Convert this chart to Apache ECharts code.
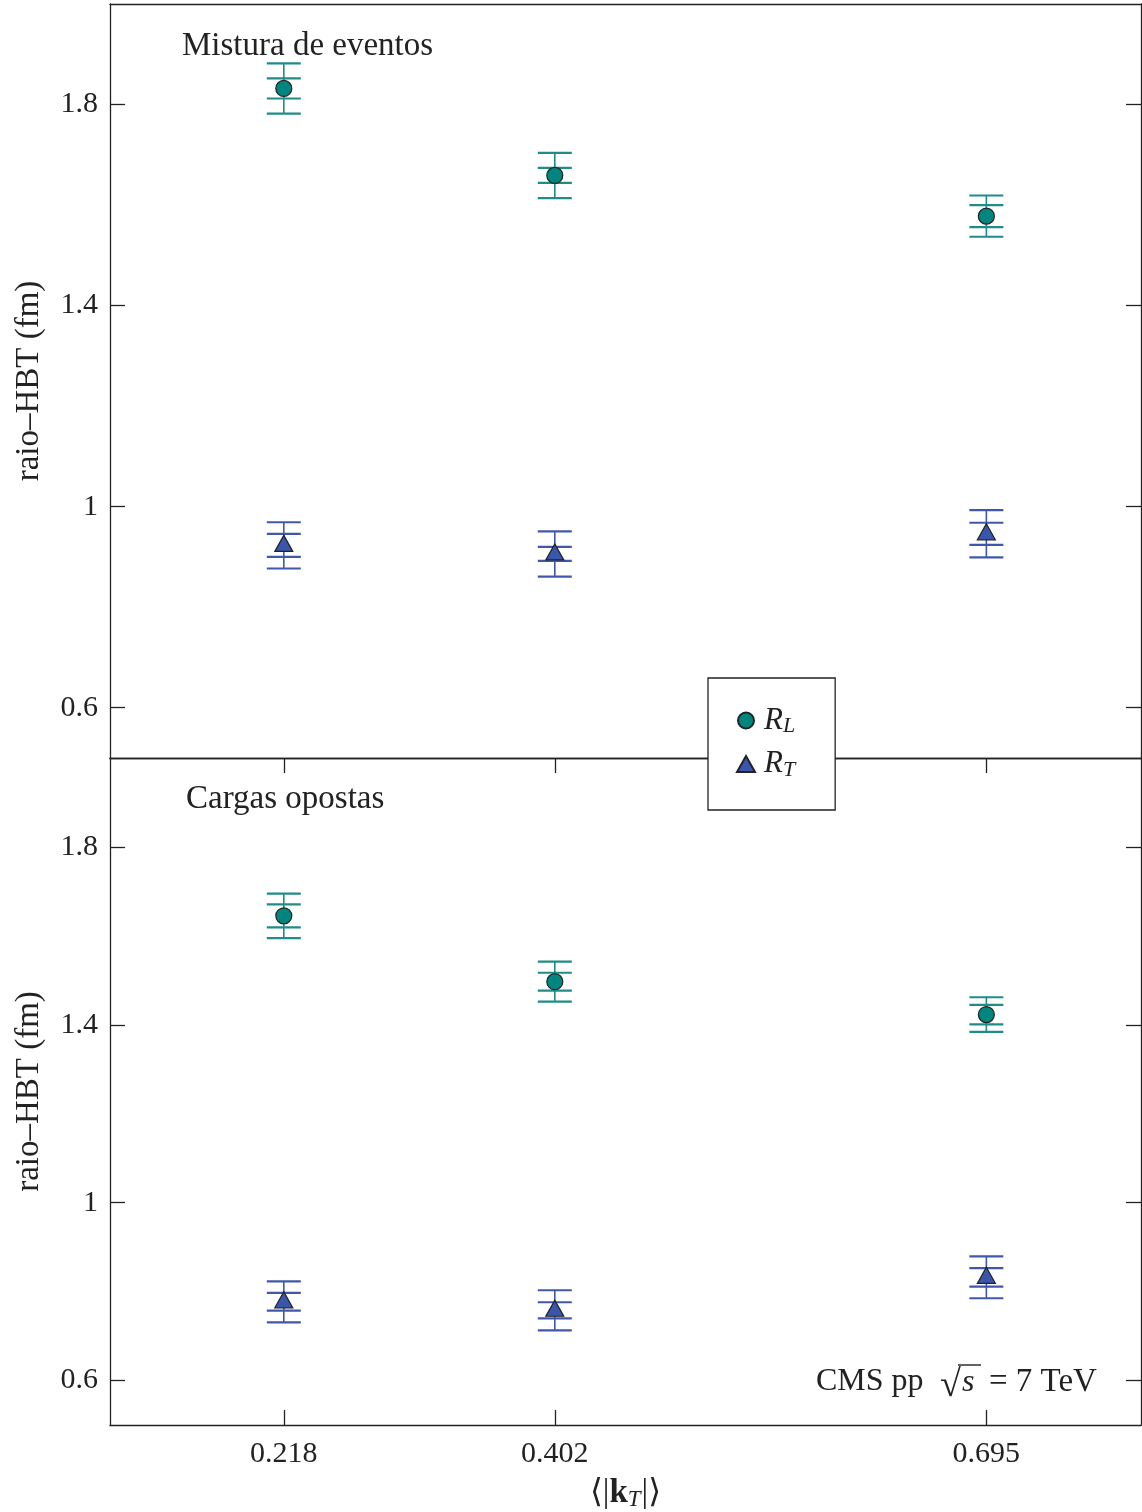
<!DOCTYPE html>
<html>
<head>
<meta charset="utf-8">
<script src="https://cdn.jsdelivr.net/npm/echarts@6/dist/echarts.min.js"></script>
<style>
  html, body { margin: 0; padding: 0; background: #fff; }
  #chart { width: 1142px; height: 1512px; }
</style>
</head>
<body>
<div id="chart"></div>
<script>
// Mean pair transverse momentum bins <|kT|>
const kT = [0.218, 0.402, 0.695];
const kTTicks = [0.218, 0.402, 0.695];
const radiusTicks = [0.6, 1.0, 1.4, 1.8];

// Event mixing reference sample
const mixRL = [1.832, 1.659, 1.578];
const mixRLStat = [0.020, 0.015, 0.022];
const mixRLTot = [0.050, 0.045, 0.041];
const mixRT = [0.923, 0.906, 0.946];
const mixRTStat = [0.023, 0.014, 0.022];
const mixRTTot = [0.046, 0.045, 0.047];

// Opposite charge reference sample
const oppRL = [1.645, 1.497, 1.423];
const oppRLStat = [0.026, 0.020, 0.022];
const oppRLTot = [0.050, 0.045, 0.039];
const oppRT = [0.777, 0.758, 0.832];
const oppRTStat = [0.020, 0.018, 0.021];
const oppRTTot = [0.046, 0.045, 0.047];

const tealMark = '#00857F';
const tealBar = '#1F8C87';
const blueMark = '#3A55AC';
const blueBar = '#3F58AE';
const ink = '#222';
const serif = '"Liberation Serif", "DejaVu Serif", serif';

function points(vals) { return kT.map((x, i) => [x, vals[i]]); }
function errRows(vals, stat, tot) {
  return kT.map((x, i) => [x, vals[i], vals[i] - stat[i], vals[i] + stat[i], vals[i] - tot[i], vals[i] + tot[i]]);
}

// Double-capped error bars: inner caps = statistical, outer caps = total
function errorBarSeries(rows, color, gridIdx) {
  return {
    type: 'custom',
    xAxisIndex: gridIdx * 2,
    yAxisIndex: gridIdx * 2,
    silent: true,
    z: 2,
    data: rows,
    renderItem: function (params, api) {
      const x = api.value(0);
      const hw = 17;
      const pLo = api.coord([x, api.value(4)]);
      const pHi = api.coord([x, api.value(5)]);
      const sLo = api.coord([x, api.value(2)]);
      const sHi = api.coord([x, api.value(3)]);
      const cx = pLo[0];
      const cap = (y) => ({ type: 'line', shape: { x1: cx - hw, y1: y, x2: cx + hw, y2: y }, style: { stroke: color, lineWidth: 2.2 } });
      return {
        type: 'group',
        children: [
          { type: 'line', shape: { x1: cx, y1: pLo[1], x2: cx, y2: pHi[1] }, style: { stroke: color, lineWidth: 1.6 } },
          cap(pLo[1]), cap(pHi[1]), cap(sLo[1]), cap(sHi[1])
        ]
      };
    }
  };
}

function scatter(name, vals, symbol, size, color, gridIdx, offset) {
  return {
    name: name,
    type: 'scatter',
    xAxisIndex: gridIdx * 2,
    yAxisIndex: gridIdx * 2,
    symbol: symbol,
    symbolSize: size,
    symbolOffset: offset || [0, 0],
    z: 5,
    itemStyle: { color: color, borderColor: ink, borderWidth: 1.2, opacity: 1 },
    data: points(vals)
  };
}

const grids = [
  { left: 110, top: 4, width: 1031, height: 754 },
  { left: 110, top: 758, width: 1031, height: 668 }
];

const axisLine = { show: true, onZero: false, lineStyle: { color: ink, width: 1.3 } };
const tickStyle = { color: ink, width: 1.3 };

const xAxes = [];
const yAxes = [];
grids.forEach((g, gi) => {
  const isBottom = gi === 1;
  // lower edge of each panel
  xAxes.push({
    gridIndex: gi, type: 'value', position: 'bottom', min: 0.1, max: 0.8,
    axisLine: axisLine,
    axisTick: { show: isBottom, inside: true, length: 15, lineStyle: tickStyle, customValues: kTTicks },
    axisLabel: { show: isBottom, customValues: kTTicks, margin: 14, fontFamily: serif, fontSize: 30, color: ink },
    splitLine: { show: false },
    name: isBottom ? '{a|⟨|}{b|k}{c|T}{a||⟩}' : '',
    nameLocation: 'middle', nameGap: 50,
    nameTextStyle: {
      rich: {
        a: { fontFamily: serif, fontSize: 33, color: ink },
        b: { fontFamily: serif, fontSize: 33, fontWeight: 'bold', color: ink },
        c: { fontFamily: serif, fontSize: 23, fontStyle: 'italic', color: ink, padding: [13, 1, 0, 0] }
      }
    }
  });
  // upper edge of each panel
  xAxes.push({
    gridIndex: gi, type: 'value', position: 'top', min: 0.1, max: 0.8,
    axisLine: axisLine,
    axisTick: { show: isBottom, inside: true, length: 15, lineStyle: tickStyle, customValues: kTTicks },
    axisLabel: { show: false },
    splitLine: { show: false }
  });
  yAxes.push({
    gridIndex: gi, type: 'value', position: 'left', min: 0.5, max: 2.0,
    axisLine: axisLine,
    axisTick: { show: true, inside: true, length: 15, lineStyle: tickStyle, customValues: radiusTicks },
    axisLabel: { customValues: radiusTicks, margin: 12, fontFamily: serif, fontSize: 30, color: ink },
    splitLine: { show: false },
    name: 'raio–HBT (fm)', nameLocation: 'middle', nameGap: 64, nameRotate: 90,
    nameTextStyle: { fontFamily: serif, fontSize: 33, color: ink }
  });
  yAxes.push({
    gridIndex: gi, type: 'value', position: 'right', min: 0.5, max: 2.0,
    axisLine: axisLine,
    axisTick: { show: true, inside: true, length: 15, lineStyle: tickStyle, customValues: radiusTicks },
    axisLabel: { show: false },
    splitLine: { show: false }
  });
});

// scatter/custom series use axis index gridIdx*2 (bottom x, left y)
const series = [
  errorBarSeries(errRows(mixRL, mixRLStat, mixRLTot), tealBar, 0),
  errorBarSeries(errRows(mixRT, mixRTStat, mixRTTot), blueBar, 0),
  errorBarSeries(errRows(oppRL, oppRLStat, oppRLTot), tealBar, 1),
  errorBarSeries(errRows(oppRT, oppRTStat, oppRTTot), blueBar, 1),
  scatter('RL', mixRL, 'circle', 16, tealMark, 0),
  scatter('RT', mixRT, 'triangle', [18, 16], blueMark, 0, [0, -2]),
  scatter('RL', oppRL, 'circle', 16, tealMark, 1),
  scatter('RT', oppRT, 'triangle', [18, 16], blueMark, 1, [0, -2])
];

function label(x, y, text, font) {
  return { type: 'text', x: x, y: y, style: { text: text, font: font, fill: ink, align: 'left', verticalAlign: 'middle' } };
}

const chart = echarts.init(document.getElementById('chart'), null, { renderer: 'canvas' });
chart.setOption({
  backgroundColor: '#fff',
  animation: false,
  grid: grids,
  xAxis: xAxes,
  yAxis: yAxes,
  series: series,
  legend: {
    data: ['RL', 'RT'],
    orient: 'vertical',
    left: 708, top: 678,
    padding: [27, 40, 29, 28],
    itemWidth: 18, itemHeight: 16, itemGap: 11,
    backgroundColor: '#fff',
    borderColor: ink, borderWidth: 1.3,
    selectedMode: false,
    formatter: function (name) { return '{r|R}{s|' + name.slice(1) + '}'; },
    textStyle: {
      color: ink,
      lineHeight: 30,
      rich: {
        r: { fontFamily: serif, fontSize: 31, fontStyle: 'italic', color: ink, padding: [0, 0, 0, 4] },
        s: { fontFamily: serif, fontSize: 22, fontStyle: 'italic', color: ink, padding: [12, 0, 0, 0] }
      }
    }
  },
  graphic: [
    label(182, 46, 'Mistura de eventos', '33px ' + serif),
    label(186, 799, 'Cargas opostas', '33px ' + serif),
    label(816, 1382, 'CMS pp', '32px ' + serif),
    label(940, 1386, '√', '38px ' + serif),
    { type: 'line', shape: { x1: 958, y1: 1365, x2: 981, y2: 1365 }, style: { stroke: ink, lineWidth: 1.4 } },
    label(962, 1383, 's', 'italic 32px ' + serif),
    label(989, 1382, '= 7 TeV', '33px ' + serif)
  ]
});
</script>
</body>
</html>
